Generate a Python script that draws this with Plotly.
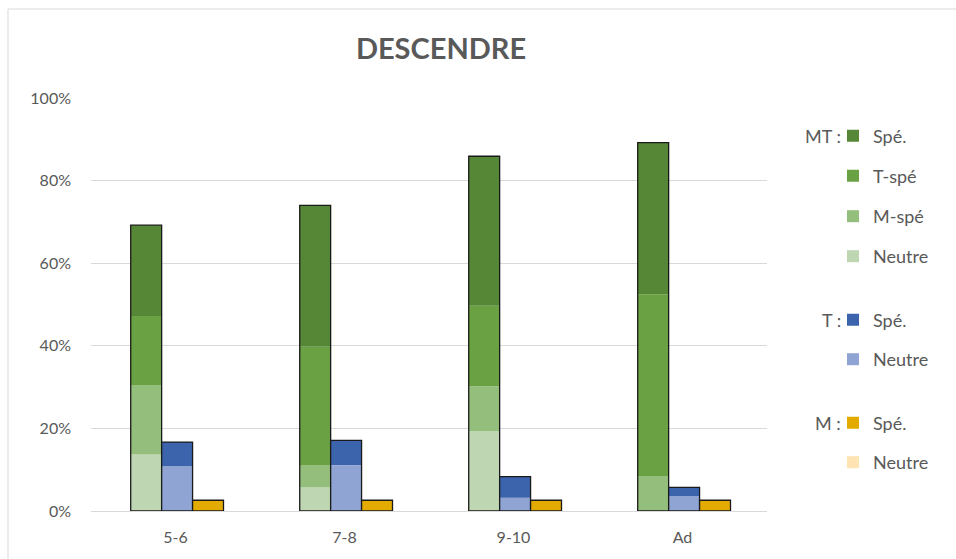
import plotly.graph_objects as go
import numpy as np

# Age groups on the x axis
categories = ["5-6", "7-8", "9-10", "Ad"]

# MT stack (percent), bottom to top
mt_neutre = [13.7, 5.7, 19.3, 0.0]
mt_m_spe = [16.8, 5.4, 10.9, 8.5]
mt_t_spe = [16.7, 28.7, 19.5, 44.0]
mt_spe = [22.0, 34.2, 36.2, 36.7]

# T stack (percent)
t_neutre = [10.8, 11.1, 3.2, 3.6]
t_spe = [5.9, 6.0, 5.1, 2.1]

# M stack (percent)
m_neutre = [0.0, 0.0, 0.0, 0.0]
m_spe = [2.6, 2.6, 2.6, 2.6]

y_ticks = [0, 20, 40, 60, 80, 100]
y_tick_labels = [f"{v}%" for v in y_ticks]

# ---- geometry helpers (plot area in pixels) ----
W, H = 956, 559
PL, PR, PT, PB = 91, 767, 98, 511


def px(x):
    return (x - PL) / (PR - PL)


def py(y):
    return (PB - y) / (PB - PT)


BAR_W = 0.183
OFFSETS = {"MT": -0.265, "T": -0.082, "M": 0.101}

TXT = "#595959"
FONT = "Lato"

fig = go.Figure()

groups = [
    ("MT", [
        ("Neutre", mt_neutre, "#BFD6B2"),
        ("M-spé", mt_m_spe, "#94BE7B"),
        ("T-spé", mt_t_spe, "#6AA143"),
        ("Spé.", mt_spe, "#568737"),
    ]),
    ("T", [
        ("Neutre", t_neutre, "#90A4D4"),
        ("Spé.", t_spe, "#3B64AD"),
    ]),
    ("M", [
        ("Neutre", m_neutre, "#FFE4B3"),
        ("Spé.", m_spe, "#E3AA00"),
    ]),
]

# legend slot (top-to-bottom order) for each (group, name)
legend_order = [("MT", "Spé."), ("MT", "T-spé"), ("MT", "M-spé"), ("MT", "Neutre"),
                ("T", "Spé."), ("T", "Neutre"),
                ("M", "Spé."), ("M", "Neutre")]
legend_y = [136, 176, 216.5, 256.5, 320, 359.5, 423, 462.5]

legend_layouts = {}
for gname, segs in groups:
    base = np.zeros(len(categories))
    for name, vals, color in segs:
        idx = legend_order.index((gname, name))
        lkey = "legend" if idx == 0 else f"legend{idx + 1}"
        fig.add_trace(go.Bar(
            x=categories, y=vals, base=base.copy(),
            width=BAR_W, offset=OFFSETS[gname],
            name=name, legend=lkey,
            marker=dict(color=color, line=dict(width=0)),
            hovertemplate=f"{gname} {name}: %{{y}}%<extra></extra>",
        ))
        legend_layouts[lkey] = dict(
            x=px(833), xanchor="left", y=py(legend_y[idx]), yanchor="middle",
            font=dict(family=FONT, size=18, color=TXT),
            bgcolor="rgba(0,0,0,0)", itemwidth=30,
        )
        base = base + np.array(vals)
    # black outline around each whole stack
    fig.add_trace(go.Bar(
        x=categories, y=base.tolist(), width=BAR_W, offset=OFFSETS[gname],
        marker=dict(color="rgba(0,0,0,0)", line=dict(color="#1a1a1a", width=1.3)),
        showlegend=False, hoverinfo="skip",
    ))

annotations = []
for label, yy in [("MT :", 136), ("T :", 320), ("M :", 423)]:
    annotations.append(dict(
        text=label, x=px(843), y=py(yy), xref="paper", yref="paper",
        xanchor="right", yanchor="middle", showarrow=False,
        font=dict(family=FONT, size=18, color=TXT),
    ))

fig.update_layout(
    width=W, height=H,
    margin=dict(l=PL, r=W - PR, t=PT, b=H - PB),
    paper_bgcolor="white", plot_bgcolor="white",
    barmode="overlay",
    title=dict(text="<b>DESCENDRE</b>", x=441 / W, xref="container", xanchor="center",
               y=1 - 49 / H, yref="container", yanchor="middle",
               font=dict(family=FONT, size=29, color=TXT)),
    xaxis=dict(
        type="category", categoryorder="array", categoryarray=categories,
        range=[-0.5, 3.5], showgrid=False, showline=False, zeroline=False,
        ticks="", tickfont=dict(family=FONT, size=16, color=TXT),
        ticklabelstandoff=15,
    ),
    yaxis=dict(
        range=[0, 100], tickmode="array", tickvals=y_ticks, ticktext=y_tick_labels,
        showgrid=True, gridcolor="#D9D9D9", gridwidth=1,
        zeroline=True, zerolinecolor="#D9D9D9", zerolinewidth=1,
        showline=False, ticks="",
        tickfont=dict(family=FONT, size=16, color=TXT),
        ticklabelstandoff=19,
    ),
    annotations=annotations,
    shapes=[dict(type="rect", xref="paper", yref="paper",
                 x0=px(8), x1=px(W + 20), y0=py(H + 20), y1=py(9),
                 line=dict(color="#D9D9D9", width=1), fillcolor="rgba(0,0,0,0)",
                 layer="below")],
    **legend_layouts,
)

fig.write_html("out.html")
